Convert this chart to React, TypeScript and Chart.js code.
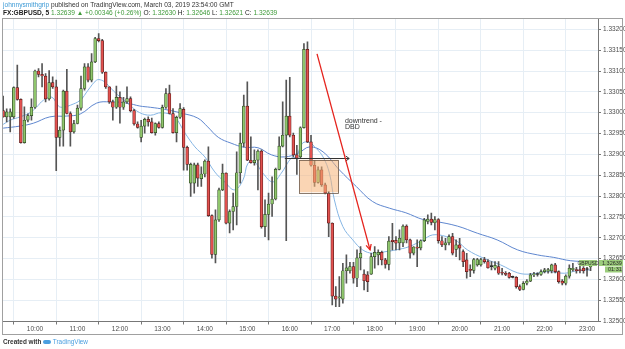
import { useEffect, useRef } from "react";
import { Chart, registerables } from "chart.js";

Chart.register(...registerables);

// 5-minute GBPUSD candles, first bar at 09:15
const START_MINUTE = 555;
const STEP_MINUTES = 5;

const opens = [
  1.33005, 1.32990, 1.32990, 1.32990, 1.33060, 1.33032, 1.32928, 1.32982, 1.32993, 1.33013,
  1.33100, 1.33092, 1.33088, 1.33033, 1.33072, 1.33062, 1.32941, 1.32958, 1.33052, 1.32998,
  1.32954, 1.32974, 1.33011, 1.33058, 1.33110, 1.33078, 1.33122, 1.33178, 1.33173, 1.33097,
  1.33062, 1.33026, 1.33013, 1.33037, 1.33013, 1.33026, 1.33034, 1.33005, 1.32973, 1.32941,
  1.32968, 1.32984, 1.32978, 1.32952, 1.32974, 1.32965, 1.33013, 1.33046, 1.32998, 1.32952,
  1.32989, 1.33008, 1.32917, 1.32831, 1.32831, 1.32875, 1.32842, 1.32853, 1.32884, 1.32753,
  1.32660, 1.32743, 1.32815, 1.32855, 1.32735, 1.32763, 1.32775, 1.32856, 1.32927, 1.33016,
  1.32886, 1.32880, 1.32886, 1.32908, 1.32727, 1.32756, 1.32781, 1.32793, 1.32864, 1.32920,
  1.32946, 1.32992, 1.32946, 1.32899, 1.32894, 1.32964, 1.33152, 1.32930, 1.32874, 1.32833,
  1.32863, 1.32827, 1.32807, 1.32735, 1.32560, 1.32556, 1.32553, 1.32621, 1.32621, 1.32631,
  1.32603, 1.32652, 1.32613, 1.32611, 1.32613, 1.32655, 1.32659, 1.32665, 1.32647, 1.32636,
  1.32694, 1.32694, 1.32688, 1.32688, 1.32728, 1.32695, 1.32663, 1.32678, 1.32676, 1.32693,
  1.32739, 1.32745, 1.32736, 1.32744, 1.32693, 1.32683, 1.32688, 1.32703, 1.32672, 1.32683,
  1.32667, 1.32647, 1.32624, 1.32622, 1.32635, 1.32635, 1.32648, 1.32643, 1.32631, 1.32627,
  1.32631, 1.32616, 1.32615, 1.32615, 1.32605, 1.32605, 1.32583, 1.32576, 1.32591, 1.32596,
  1.32611, 1.32612, 1.32612, 1.32619, 1.32620, 1.32621, 1.32635, 1.32619, 1.32596, 1.32591,
  1.32608, 1.32623, 1.32624, 1.32624, 1.32627, 1.32624, 1.32630,
];

const highs = [
  1.33040, 1.33009, 1.33009, 1.33062, 1.33114, 1.33033, 1.33014, 1.32997, 1.33033, 1.33102,
  1.33106, 1.33118, 1.33094, 1.33101, 1.33086, 1.33078, 1.32966, 1.33054, 1.33104, 1.33002,
  1.32982, 1.33018, 1.33088, 1.33118, 1.33118, 1.33142, 1.33181, 1.33190, 1.33176, 1.33098,
  1.33062, 1.33030, 1.33064, 1.33050, 1.33037, 1.33062, 1.33038, 1.33008, 1.32978, 1.32982,
  1.32987, 1.32990, 1.32987, 1.32976, 1.32978, 1.33018, 1.33058, 1.33066, 1.33010, 1.32992,
  1.33022, 1.33012, 1.32920, 1.32879, 1.32879, 1.32879, 1.32870, 1.32887, 1.32918, 1.32755,
  1.32767, 1.32819, 1.32877, 1.32856, 1.32767, 1.32807, 1.32906, 1.32951, 1.33042, 1.33074,
  1.32942, 1.32911, 1.32911, 1.32911, 1.32791, 1.32807, 1.32846, 1.32867, 1.32942, 1.33026,
  1.33078, 1.33085, 1.32951, 1.32922, 1.32966, 1.33166, 1.33170, 1.32946, 1.32886, 1.32870,
  1.32870, 1.32831, 1.32811, 1.32736, 1.32583, 1.32607, 1.32639, 1.32659, 1.32641, 1.32641,
  1.32671, 1.32679, 1.32623, 1.32619, 1.32663, 1.32679, 1.32671, 1.32668, 1.32651, 1.32703,
  1.32735, 1.32703, 1.32719, 1.32731, 1.32731, 1.32697, 1.32679, 1.32695, 1.32695, 1.32747,
  1.32755, 1.32759, 1.32751, 1.32746, 1.32703, 1.32699, 1.32707, 1.32711, 1.32695, 1.32699,
  1.32671, 1.32663, 1.32635, 1.32651, 1.32651, 1.32651, 1.32653, 1.32648, 1.32643, 1.32643,
  1.32643, 1.32627, 1.32619, 1.32617, 1.32608, 1.32607, 1.32587, 1.32595, 1.32600, 1.32615,
  1.32617, 1.32616, 1.32623, 1.32627, 1.32627, 1.32637, 1.32639, 1.32621, 1.32600, 1.32611,
  1.32635, 1.32639, 1.32629, 1.32632, 1.32631, 1.32629, 1.32646,
];

const lows = [
  1.32989, 1.32978, 1.32954, 1.32986, 1.33030, 1.32927, 1.32927, 1.32978, 1.32982, 1.33010,
  1.33086, 1.33062, 1.33026, 1.33030, 1.33058, 1.32861, 1.32920, 1.32920, 1.32997, 1.32920,
  1.32951, 1.32973, 1.33006, 1.33054, 1.33074, 1.33074, 1.33120, 1.33170, 1.33094, 1.33058,
  1.33022, 1.32982, 1.33010, 1.32975, 1.33008, 1.33022, 1.33002, 1.32970, 1.32963, 1.32930,
  1.32951, 1.32968, 1.32951, 1.32946, 1.32963, 1.32963, 1.33010, 1.32997, 1.32951, 1.32930,
  1.32986, 1.32862, 1.32862, 1.32799, 1.32807, 1.32823, 1.32823, 1.32846, 1.32751, 1.32651,
  1.32640, 1.32739, 1.32813, 1.32733, 1.32712, 1.32719, 1.32731, 1.32831, 1.32918, 1.32885,
  1.32879, 1.32874, 1.32815, 1.32723, 1.32703, 1.32695, 1.32751, 1.32791, 1.32863, 1.32918,
  1.32693, 1.32942, 1.32894, 1.32852, 1.32891, 1.32963, 1.32928, 1.32872, 1.32823, 1.32831,
  1.32823, 1.32805, 1.32703, 1.32539, 1.32535, 1.32535, 1.32543, 1.32591, 1.32615, 1.32591,
  1.32583, 1.32623, 1.32575, 1.32571, 1.32612, 1.32627, 1.32635, 1.32635, 1.32627, 1.32623,
  1.32671, 1.32671, 1.32671, 1.32679, 1.32688, 1.32651, 1.32659, 1.32631, 1.32671, 1.32691,
  1.32733, 1.32731, 1.32719, 1.32687, 1.32679, 1.32671, 1.32683, 1.32659, 1.32655, 1.32647,
  1.32631, 1.32603, 1.32607, 1.32615, 1.32632, 1.32632, 1.32639, 1.32627, 1.32623, 1.32623,
  1.32612, 1.32611, 1.32609, 1.32603, 1.32604, 1.32579, 1.32573, 1.32575, 1.32587, 1.32595,
  1.32607, 1.32608, 1.32610, 1.32616, 1.32615, 1.32616, 1.32616, 1.32591, 1.32587, 1.32587,
  1.32603, 1.32620, 1.32615, 1.32616, 1.32615, 1.32608, 1.32621,
];

const closes = [
  1.32990, 1.33002, 1.33002, 1.33060, 1.33032, 1.32928, 1.32982, 1.32993, 1.33013, 1.33100,
  1.33092, 1.33088, 1.33033, 1.33072, 1.33062, 1.32941, 1.32958, 1.33052, 1.32998, 1.32954,
  1.32974, 1.33011, 1.33058, 1.33110, 1.33078, 1.33122, 1.33178, 1.33173, 1.33097, 1.33062,
  1.33026, 1.33013, 1.33037, 1.33013, 1.33026, 1.33034, 1.33005, 1.32973, 1.32965, 1.32968,
  1.32984, 1.32978, 1.32952, 1.32974, 1.32965, 1.33013, 1.33046, 1.32998, 1.32952, 1.32989,
  1.33010, 1.32917, 1.32876, 1.32876, 1.32875, 1.32843, 1.32853, 1.32884, 1.32753, 1.32660,
  1.32743, 1.32815, 1.32855, 1.32735, 1.32763, 1.32775, 1.32856, 1.32927, 1.33016, 1.32886,
  1.32880, 1.32886, 1.32908, 1.32727, 1.32756, 1.32781, 1.32793, 1.32864, 1.32920, 1.32946,
  1.32992, 1.32946, 1.32899, 1.32891, 1.32964, 1.33152, 1.32930, 1.32874, 1.32833, 1.32863,
  1.32827, 1.32807, 1.32735, 1.32560, 1.32553, 1.32558, 1.32621, 1.32628, 1.32631, 1.32603,
  1.32652, 1.32663, 1.32597, 1.32595, 1.32655, 1.32665, 1.32665, 1.32647, 1.32636, 1.32692,
  1.32691, 1.32687, 1.32699, 1.32728, 1.32695, 1.32663, 1.32678, 1.32675, 1.32693, 1.32743,
  1.32745, 1.32737, 1.32744, 1.32693, 1.32683, 1.32688, 1.32703, 1.32663, 1.32683, 1.32675,
  1.32643, 1.32619, 1.32622, 1.32648, 1.32648, 1.32648, 1.32643, 1.32628, 1.32631, 1.32634,
  1.32615, 1.32615, 1.32612, 1.32605, 1.32605, 1.32583, 1.32576, 1.32591, 1.32596, 1.32611,
  1.32613, 1.32612, 1.32619, 1.32623, 1.32624, 1.32635, 1.32619, 1.32595, 1.32591, 1.32608,
  1.32627, 1.32627, 1.32621, 1.32621, 1.32621, 1.32624, 1.32639,
];

// Faster moving average (light blue), sampled along the session: minute of day / price
const fastMaTimes = [
  555, 565, 579, 593, 602, 612, 624, 633, 640, 650, 664, 675, 687, 694, 701, 711, 723, 734, 748, 763,
  779, 797, 812, 826, 840, 854, 868, 882, 894, 901, 910, 922, 936, 948, 962, 969, 978, 988, 997, 1007,
  1016, 1023, 1035, 1049, 1063, 1077, 1096, 1110, 1129, 1148, 1162, 1181, 1197, 1211, 1234, 1258, 1282,
  1300, 1324, 1348, 1366, 1385,
];
const fastMaValues = [
  1.32972, 1.32982, 1.32990, 1.33000, 1.33013, 1.33030, 1.33037, 1.33016, 1.33013, 1.33018, 1.33030,
  1.33054, 1.33078, 1.33078, 1.33070, 1.33052, 1.33034, 1.33018, 1.33000, 1.32994, 1.33000, 1.32990,
  1.32951, 1.32918, 1.32894, 1.32858, 1.32834, 1.32815, 1.32839, 1.32879, 1.32882, 1.32855, 1.32834,
  1.32855, 1.32891, 1.32894, 1.32927, 1.32928, 1.32915, 1.32894, 1.32855, 1.32791, 1.32727, 1.32695,
  1.32671, 1.32663, 1.32667, 1.32671, 1.32679, 1.32695, 1.32707, 1.32703, 1.32691, 1.32671, 1.32651,
  1.32635, 1.32616, 1.32613, 1.32619, 1.32615, 1.32621, 1.32623,
];

// Slower moving average (darker blue)
const slowMaTimes = [
  555, 579, 598, 621, 645, 664, 687, 706, 730, 748, 763, 783, 807, 830, 844, 859, 877, 896, 915, 934,
  953, 972, 988, 1007, 1030, 1054, 1077, 1101, 1124, 1148, 1167, 1197, 1225, 1253, 1282, 1310, 1333,
  1357, 1385,
];
const slowMaValues = [
  1.32963, 1.32968, 1.32975, 1.32990, 1.32992, 1.32997, 1.33023, 1.33026, 1.33023, 1.33016, 1.33013,
  1.33008, 1.32999, 1.32987, 1.32966, 1.32941, 1.32927, 1.32917, 1.32916, 1.32899, 1.32894, 1.32903,
  1.32918, 1.32906, 1.32863, 1.32823, 1.32787, 1.32771, 1.32760, 1.32744, 1.32739, 1.32728, 1.32711,
  1.32695, 1.32671, 1.32659, 1.32653, 1.32645, 1.32643,
];

const hourTicks = [600, 660, 720, 780, 840, 900, 960, 1020, 1080, 1140, 1200, 1260, 1320, 1380];
const priceTicks = [
  1.325, 1.3255, 1.326, 1.3265, 1.327, 1.3275, 1.328, 1.3285, 1.329, 1.3295, 1.33, 1.3305, 1.331,
  1.3315, 1.332,
];

// Drawings on the chart
const zoneTimes = [973.5, 1029.2];
const zonePrices = [1.32809, 1.32887];
const levelTimes = [953, 1044];
const levelPrice = 1.32892;
const trendTimes = [998.5, 1073.4];
const trendPrices = [1.33141, 1.32671];
const noteTime = 1038;
const notePrices = [1.32975, 1.32962];
const noteLines = ["downtrend -", "DBD"];

const FONT = "'Liberation Sans', Arial, Helvetica, sans-serif";
const GREEN = "#8fc66c";
const RED = "#e2514f";
const GREEN_EDGE = "#2f4a22";
const RED_EDGE = "#5a1a18";
const GRID = "#e6eef5";

const hhmm = (m: number) => {
  const h = Math.floor(m / 60);
  const mm = Math.round(m - h * 60);
  return `${String(h).padStart(2, "0")}:${String(mm).padStart(2, "0")}`;
};

const last = closes.length - 1;

export default function App() {
  const canvasRef = useRef<HTMLCanvasElement | null>(null);

  useEffect(() => {
    document.body.style.margin = "0";
    const canvas = canvasRef.current;
    if (!canvas) return;

    const times = opens.map((_, i) => START_MINUTE + i * STEP_MINUTES);
    const wickData = times.map((t, i) => ({ x: t, y: [lows[i], highs[i]] }));
    const bodyData = times.map((t, i) => ({
      x: t,
      y: [Math.min(opens[i], closes[i]), Math.max(opens[i], closes[i])],
    }));
    const fill = closes.map((c, i) => (c > opens[i] ? GREEN : c < opens[i] ? RED : "#333"));
    const edge = closes.map((c, i) => (c > opens[i] ? GREEN_EDGE : c < opens[i] ? RED_EDGE : "#222"));

    const drawings = {
      id: "drawings",
      afterDatasetsDraw(chart: any) {
        const { ctx, scales, chartArea } = chart;
        const xs = scales.x;
        const ys = scales.y;
        ctx.save();
        ctx.beginPath();
        ctx.rect(chartArea.left, chartArea.top, chartArea.right - chartArea.left, chartArea.bottom - chartArea.top);
        ctx.clip();

        // supply zone
        const zx1 = xs.getPixelForValue(zoneTimes[0]);
        const zx2 = xs.getPixelForValue(zoneTimes[1]);
        const zy1 = ys.getPixelForValue(zonePrices[1]);
        const zy2 = ys.getPixelForValue(zonePrices[0]);
        ctx.fillStyle = "rgba(245, 178, 118, 0.55)";
        ctx.fillRect(zx1, zy1, zx2 - zx1, zy2 - zy1);
        ctx.strokeStyle = "#6e5a4a";
        ctx.lineWidth = 0.8;
        ctx.strokeRect(Math.round(zx1) + 0.5, Math.round(zy1) + 0.5, Math.round(zx2 - zx1), Math.round(zy2 - zy1));

        // horizontal level with arrow
        const lx1 = xs.getPixelForValue(levelTimes[0]);
        const lx2 = xs.getPixelForValue(levelTimes[1]);
        const ly = Math.round(ys.getPixelForValue(levelPrice)) + 0.5;
        ctx.strokeStyle = "#333";
        ctx.lineWidth = 1;
        ctx.beginPath();
        ctx.moveTo(lx1, ly);
        ctx.lineTo(lx2, ly);
        ctx.moveTo(lx2 - 3.5, ly - 2.5);
        ctx.lineTo(lx2, ly);
        ctx.lineTo(lx2 - 3.5, ly + 2.5);
        ctx.stroke();

        // trend arrow
        const ax1 = xs.getPixelForValue(trendTimes[0]);
        const ay1 = ys.getPixelForValue(trendPrices[0]);
        const ax2 = xs.getPixelForValue(trendTimes[1]);
        const ay2 = ys.getPixelForValue(trendPrices[1]);
        ctx.strokeStyle = "#e5231d";
        ctx.lineWidth = 1.3;
        ctx.beginPath();
        ctx.moveTo(ax1, ay1);
        ctx.lineTo(ax2, ay2);
        ctx.stroke();
        const ang = Math.atan2(ay2 - ay1, ax2 - ax1);
        const hl = 6;
        ctx.beginPath();
        ctx.moveTo(ax2 - hl * Math.cos(ang - 0.45), ay2 - hl * Math.sin(ang - 0.45));
        ctx.lineTo(ax2, ay2);
        ctx.lineTo(ax2 - hl * Math.cos(ang + 0.45), ay2 - hl * Math.sin(ang + 0.45));
        ctx.stroke();

        // note
        ctx.fillStyle = "#333";
        ctx.font = `7px ${FONT}`;
        ctx.textBaseline = "alphabetic";
        const nx = xs.getPixelForValue(noteTime);
        noteLines.forEach((line, i) => {
          ctx.fillText(line, nx, ys.getPixelForValue(notePrices[i]));
        });
        ctx.restore();
      },
      afterDraw(chart: any) {
        const { ctx, scales, chartArea } = chart;
        const ys = scales.y;
        ctx.save();
        // outer frame
        ctx.strokeStyle = "#a0a0a0";
        ctx.lineWidth = 1;
        ctx.strokeRect(2.5, 18.5, 620, 316);

        // last price badges
        const py = Math.round(ys.getPixelForValue(closes[last]));
        ctx.fillStyle = "#9ccd7c";
        ctx.fillRect(chartArea.right - 19, py - 3, 18, 6);
        ctx.fillRect(chartArea.right + 1, py - 3, 24, 6);
        ctx.fillRect(chartArea.right + 7, py + 3.5, 17, 6);
        ctx.fillStyle = "#2a2a2a";
        ctx.font = `5px ${FONT}`;
        ctx.textBaseline = "middle";
        ctx.textAlign = "center";
        ctx.fillText("GBPUSD", chartArea.right - 10, py + 0.3);
        ctx.textAlign = "left";
        ctx.font = `5.5px ${FONT}`;
        ctx.fillText(closes[last].toFixed(5), chartArea.right + 4, py + 0.3);
        ctx.fillText("01:31", chartArea.right + 10, py + 6.8);
        ctx.restore();
      },
    };

    const chart = new Chart(canvas, {
      type: "bar",
      data: {
        datasets: [
          {
            type: "line",
            data: slowMaTimes.map((t, i) => ({ x: t, y: slowMaValues[i] })),
            borderColor: "#5f87cf",
            borderWidth: 1,
            pointRadius: 0,
            tension: 0.4,
            order: 4,
          } as any,
          {
            type: "line",
            data: fastMaTimes.map((t, i) => ({ x: t, y: fastMaValues[i] })),
            borderColor: "#86b6e4",
            borderWidth: 1,
            pointRadius: 0,
            tension: 0.4,
            order: 3,
          } as any,
          {
            type: "bar",
            data: wickData as any,
            backgroundColor: "#555",
            barThickness: 1,
            grouped: false,
            order: 2,
          } as any,
          {
            type: "bar",
            data: bodyData as any,
            backgroundColor: fill,
            borderColor: edge,
            borderWidth: 0.7,
            borderSkipped: false,
            barThickness: 2.8,
            minBarLength: 1,
            grouped: false,
            order: 1,
          } as any,
        ],
      },
      options: {
        animation: false,
        responsive: false,
        devicePixelRatio: 1,
        layout: { padding: { left: 3, top: 19, right: 0, bottom: 15.5 } },
        plugins: { legend: { display: false }, tooltip: { enabled: false } },
        scales: {
          x: {
            type: "linear",
            min: 554.8,
            max: 1395.5,
            offset: false,
            grid: { color: GRID, tickLength: 3, tickColor: "#777" },
            border: { color: "#777" },
            ticks: {
              font: { size: 6.5, family: FONT },
              color: "#4d4d4d",
              padding: 1,
              maxRotation: 0,
              autoSkip: false,
              callback: (v: any) => hhmm(Number(v)),
            },
            afterBuildTicks: (s: any) => {
              s.ticks = hourTicks.map((v) => ({ value: v }));
            },
            afterFit: (s: any) => {
              s.height = 12;
            },
          },
          y: {
            type: "linear",
            position: "right",
            min: 1.324993,
            max: 1.332247,
            grid: { color: GRID, tickLength: 3, tickColor: "#777" },
            border: { color: "#777" },
            ticks: {
              font: { size: 6.5, family: FONT },
              color: "#4d4d4d",
              padding: 2,
              callback: (v: any) => Number(v).toFixed(5),
            },
            afterBuildTicks: (s: any) => {
              s.ticks = priceTicks.map((v) => ({ value: v }));
            },
            afterFit: (s: any) => {
              s.width = 27;
            },
          },
        },
      },
      plugins: [drawings],
    });

    return () => chart.destroy();
  }, []);

  const green = { color: "#3f9a3a" };
  const change = "+0.00346 (+0.26%)";

  return (
    <div
      style={{
        position: "absolute",
        left: 0,
        top: 0,
        width: 625,
        height: 349,
        background: "#fff",
        fontFamily: FONT,
        overflow: "hidden",
      }}
    >
      <canvas ref={canvasRef} width={625} height={349} style={{ position: "absolute", left: 0, top: 0, width: 625, height: 349 }} />
      <div style={{ position: "absolute", left: 3, top: 1, fontSize: 6.6, color: "#333", whiteSpace: "nowrap", lineHeight: "7px" }}>
        <span style={{ color: "#3d9ad6" }}>johnnysmithgrip</span> published on TradingView.com, March 03, 2019 23:54:00 GMT
      </div>
      <div style={{ position: "absolute", left: 3, top: 9, fontSize: 6.6, color: "#222", whiteSpace: "nowrap", lineHeight: "7px" }}>
        <b>FX:GBPUSD, 5</b> <span style={green}>{closes[last].toFixed(5)}</span>{" "}
        <span style={green}>▲</span> <span style={green}>{change}</span> O: <span style={green}>{opens[last].toFixed(5)}</span> H:{" "}
        <span style={green}>{highs[last].toFixed(5)}</span> L: <span style={green}>{lows[last].toFixed(5)}</span> C:{" "}
        <span style={green}>{closes[last].toFixed(5)}</span>
      </div>
      <div style={{ position: "absolute", left: 3, top: 338, fontSize: 6.4, color: "#333", whiteSpace: "nowrap", lineHeight: "8px" }}>
        <span style={{ fontWeight: 600 }}>Created with</span>{" "}
        <span style={{ display: "inline-block", width: 8, height: 4, background: "#4a9fe0", borderRadius: 2, verticalAlign: "middle" }} />{" "}
        <span style={{ color: "#4a9fe0" }}>TradingView</span>
      </div>
    </div>
  );
}
